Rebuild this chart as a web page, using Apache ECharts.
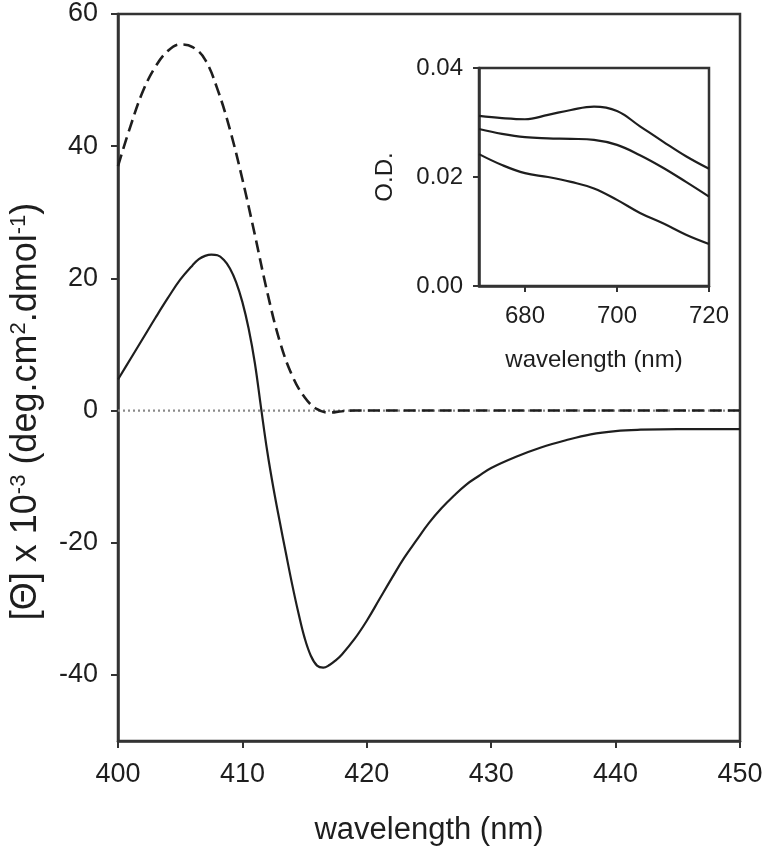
<!DOCTYPE html>
<html>
<head>
<meta charset="utf-8">
<script src="https://cdn.jsdelivr.net/npm/echarts@6/dist/echarts.min.js"></script>
<style>html,body{margin:0;padding:0;background:#fff;}#c{width:767px;height:851px;}</style>
</head>
<body>
<div id="c"></div>
<script>
// ---- Main CD spectrum data ----
var dashedWl  = [400, 401, 402, 403, 404, 405, 406, 407, 408, 409, 410, 411, 412, 413, 414, 415, 416, 417, 418, 419, 420, 430, 440, 450];
var dashedVal = [37, 43, 48.3, 52, 54.4, 55.4, 55.0, 53.1, 48.6, 42.5, 35, 26.6, 17.9, 10.5, 5.3, 2.0, 0.2, -0.3, -0.1, 0, 0, 0, 0, 0];

var solidWl  = [400, 401, 402, 403, 404, 405, 406, 406.5, 407, 407.5, 408, 408.5, 409, 409.5, 410, 410.5, 411, 411.5, 412, 412.5, 413, 413.5, 414, 414.5, 415, 415.5, 416, 416.5, 417, 417.5, 418, 419, 420, 421, 422, 423, 424, 425, 426, 427, 428, 429, 430, 432, 434, 436, 438, 440, 442, 445, 450];
var solidVal = [4.7, 7.8, 10.9, 14.0, 17.0, 19.8, 22.0, 22.9, 23.4, 23.6, 23.5, 22.8, 21.5, 19.4, 16.4, 12.4, 7.2, 0.4, -6.2, -11.8, -16.8, -21.6, -26.3, -30.6, -34.4, -37.1, -38.6, -38.9, -38.5, -37.8, -36.9, -34.6, -31.8, -28.6, -25.4, -22.3, -19.6, -17.0, -14.8, -12.9, -11.2, -9.9, -8.7, -7.0, -5.6, -4.5, -3.6, -3.1, -2.9, -2.8, -2.8];

var zeroWl  = [400, 450];
var zeroVal = [0, 0];

var mainYTicks = [-40, -20, 0, 20, 40, 60];

// ---- Inset absorbance data ----
var insetWl     = [670, 675, 680, 685, 690, 695, 700, 705, 710, 715, 720];
var insetTop    = [0.0312, 0.0308, 0.0306, 0.0314, 0.0323, 0.0329, 0.0321, 0.0293, 0.0265, 0.0238, 0.0215];
var insetMiddle = [0.0288, 0.0279, 0.0273, 0.0271, 0.0270, 0.0268, 0.0259, 0.0240, 0.0217, 0.0191, 0.0164];
var insetBottom = [0.0242, 0.0222, 0.0207, 0.0200, 0.0191, 0.0179, 0.0158, 0.0134, 0.0115, 0.0094, 0.0077];
var insetXTicks = [680, 700, 720];

function zip(a, b) { return a.map(function (v, i) { return [v, b[i]]; }); }

var FONT = '"Liberation Sans", Arial, sans-serif';
var INK = '#1e1e1e';
var AX = '#333';

var chart = echarts.init(document.getElementById('c'), null, {renderer: 'canvas'});
chart.setOption({
  backgroundColor: '#fff',
  animation: false,
  textStyle: {fontFamily: FONT, color: INK},
  grid: [
    {left: 117, top: 14, width: 623, height: 730, show: true, borderColor: AX, borderWidth: 2.5, backgroundColor: 'transparent'},
    {left: 479, top: 68, width: 230, height: 218, show: true, borderColor: AX, borderWidth: 2.5, backgroundColor: '#fff'}
  ],
  xAxis: [
    {
      type: 'value', gridIndex: 0, min: 400, max: 450, interval: 10,
      name: 'wavelength (nm)', nameLocation: 'middle', nameGap: 74,
      nameTextStyle: {fontSize: 31, color: INK, fontFamily: FONT},
      axisLine: {show: true, onZero: false, lineStyle: {color: AX, width: 2.5}},
      axisTick: {show: true, inside: false, length: 7, lineStyle: {color: AX, width: 2}},
      axisLabel: {fontSize: 27, color: INK, margin: 20, fontFamily: FONT},
      splitLine: {show: false}
    },
    {
      type: 'value', gridIndex: 1, min: 670, max: 720,
      name: 'wavelength (nm)', nameLocation: 'middle', nameGap: 62,
      nameTextStyle: {fontSize: 24, color: INK, fontFamily: FONT},
      axisLine: {show: true, onZero: false, lineStyle: {color: AX, width: 2.5}},
      axisTick: {show: true, length: 6, lineStyle: {color: AX, width: 2}, customValues: insetXTicks},
      axisLabel: {fontSize: 24, color: INK, margin: 18, fontFamily: FONT, customValues: insetXTicks},
      splitLine: {show: false}
    }
  ],
  yAxis: [
    {
      type: 'value', gridIndex: 0, min: -50, max: 60,
      name: '[Θ] x 10{sup|-3} (deg.cm{sup|2}.dmol{sup|-1})',
      nameLocation: 'middle', nameGap: 74, nameRotate: 90,
      nameTextStyle: {
        fontSize: 36, color: INK, fontFamily: FONT, padding: [0, 68, 0, 0],
        rich: {sup: {fontSize: 22, color: INK, fontFamily: FONT, verticalAlign: 'top'}}
      },
      axisLine: {show: true, onZero: false, lineStyle: {color: AX, width: 2.5}},
      axisTick: {show: true, length: 7, lineStyle: {color: AX, width: 2}, customValues: mainYTicks},
      axisLabel: {fontSize: 27, color: INK, margin: 20, fontFamily: FONT, customValues: mainYTicks},
      splitLine: {show: false}
    },
    {
      type: 'value', gridIndex: 1, min: 0, max: 0.04, interval: 0.02,
      name: 'O.D.', nameLocation: 'middle', nameGap: 82, nameRotate: 90,
      nameTextStyle: {fontSize: 24, color: INK, fontFamily: FONT},
      axisLine: {show: true, onZero: false, lineStyle: {color: AX, width: 2.5}},
      axisTick: {show: true, length: 6, lineStyle: {color: AX, width: 2}},
      axisLabel: {fontSize: 24, color: INK, margin: 16, fontFamily: FONT,
        formatter: function (v) { return v.toFixed(2); }},
      splitLine: {show: false}
    }
  ],
  series: [
    {
      type: 'line', xAxisIndex: 0, yAxisIndex: 0, data: zip(zeroWl, zeroVal),
      showSymbol: false, silent: true,
      lineStyle: {color: '#8a8a8a', width: 2.2, type: [2, 3]}
    },
    {
      type: 'line', xAxisIndex: 0, yAxisIndex: 0, data: zip(dashedWl, dashedVal),
      showSymbol: false, smooth: 0.4,
      lineStyle: {color: INK, width: 2.6, type: [12, 6]}
    },
    {
      type: 'line', xAxisIndex: 0, yAxisIndex: 0, data: zip(solidWl, solidVal),
      showSymbol: false, smooth: 0.4,
      lineStyle: {color: INK, width: 2.2}
    },
    {
      type: 'line', xAxisIndex: 1, yAxisIndex: 1, data: zip(insetWl, insetTop),
      showSymbol: false, smooth: 0.4,
      lineStyle: {color: INK, width: 2.2}
    },
    {
      type: 'line', xAxisIndex: 1, yAxisIndex: 1, data: zip(insetWl, insetMiddle),
      showSymbol: false, smooth: 0.4,
      lineStyle: {color: INK, width: 2.2}
    },
    {
      type: 'line', xAxisIndex: 1, yAxisIndex: 1, data: zip(insetWl, insetBottom),
      showSymbol: false, smooth: 0.4,
      lineStyle: {color: INK, width: 2.2}
    }
  ]
});
</script>
</body>
</html>
